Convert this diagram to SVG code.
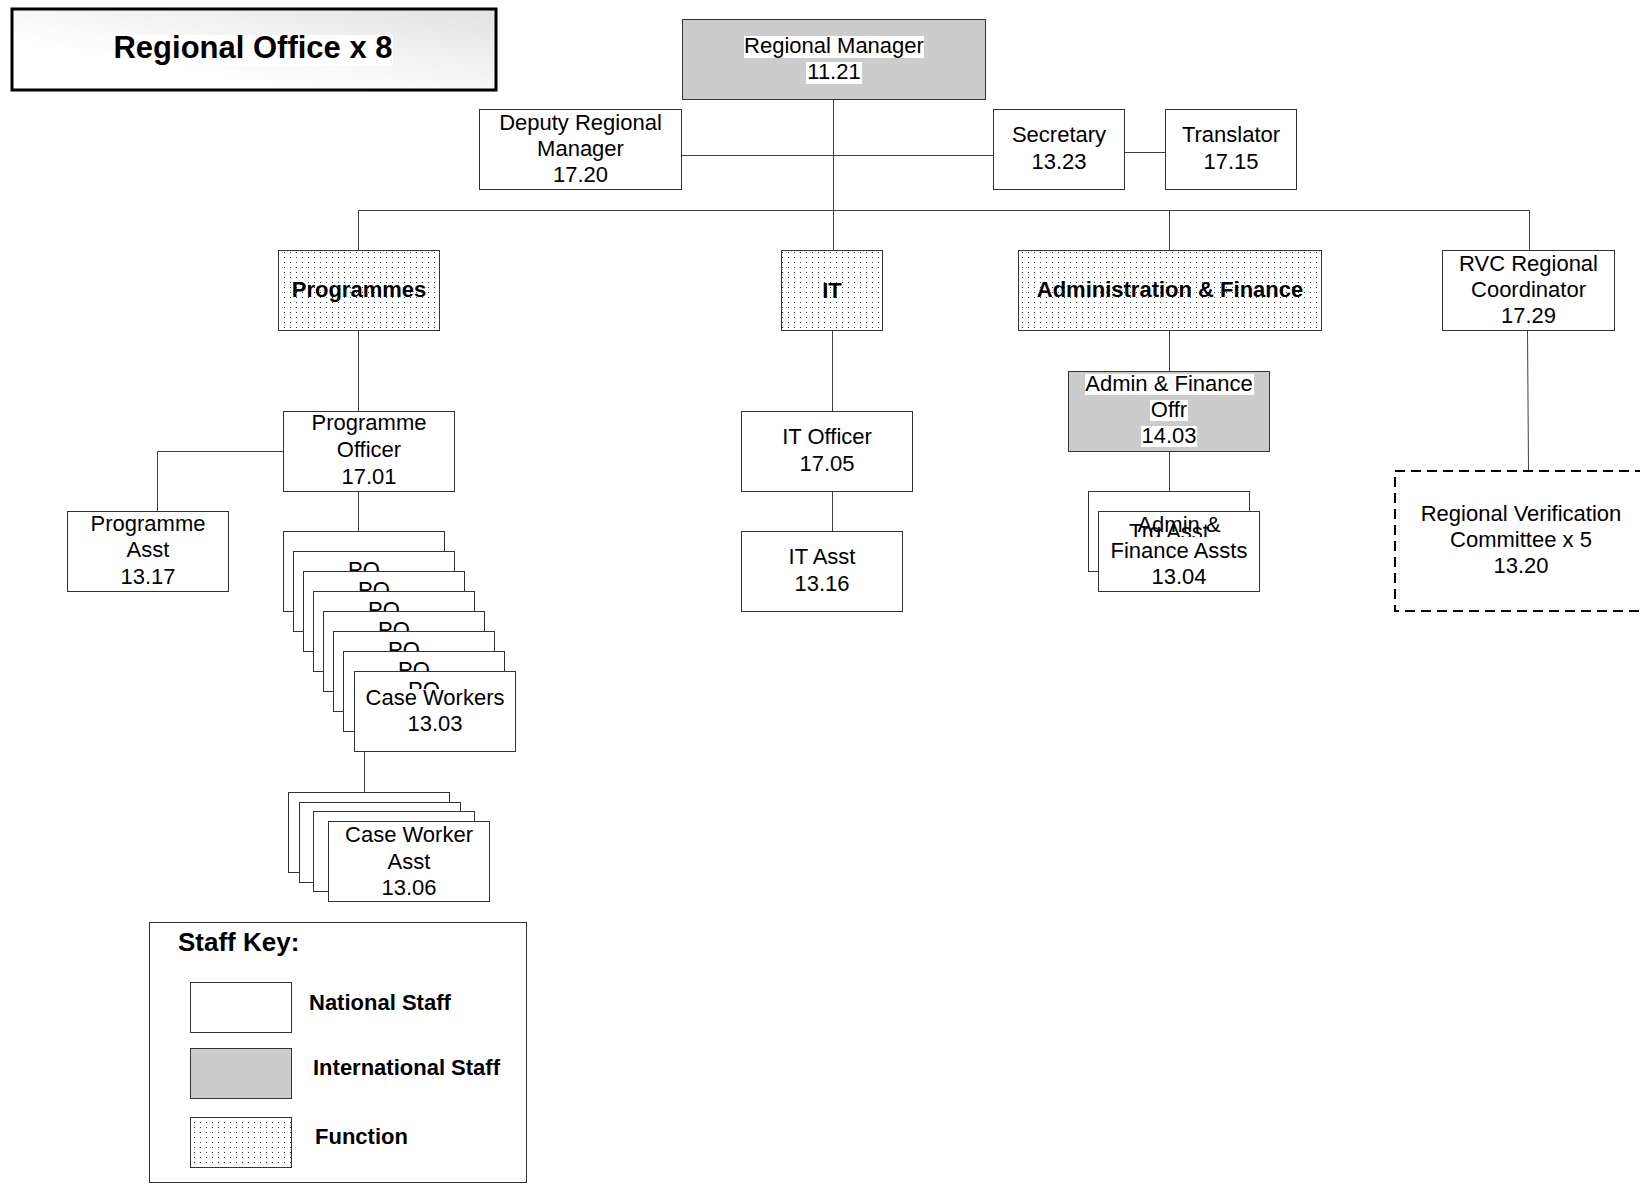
<svg xmlns="http://www.w3.org/2000/svg" width="1640" height="1184" viewBox="0 0 1640 1184">
<defs>
<pattern id="dots" width="6" height="5" patternUnits="userSpaceOnUse"><rect width="6" height="5" fill="#fff"/><rect x="2" y="2" width="1" height="1" fill="#333"/></pattern>
<linearGradient id="tg" x1="0" y1="1" x2="1" y2="0"><stop offset="0.3" stop-color="#ffffff"/><stop offset="1" stop-color="#e2e2e2"/></linearGradient>
<style>
.box{fill:#fff;stroke:#333;stroke-width:1}
.intl{fill:#cccccc;stroke:#333;stroke-width:1}
.func{fill:url(#dots);stroke:#333;stroke-width:1}
.conn{fill:none;stroke:#404040;stroke-width:1}
.t{font-family:"Liberation Sans",Arial,sans-serif;font-size:22px;text-anchor:middle;fill:#000}
.b{font-weight:bold}
.l{text-anchor:start}
.bg{fill:#fff}
</style>
</defs>
<rect width="1640" height="1184" fill="#fff"/>

<g id="connectors">
<path class="conn" d="M833.5 99 V250"/>
<path class="conn" d="M681 155.5 H993"/>
<path class="conn" d="M1124 152.5 H1165"/>
<path class="conn" d="M358.5 250 V210.5 H1529.5 V250"/>
<path class="conn" d="M1169.5 210.5 V250"/>
<path class="conn" d="M358.5 330 V411"/>
<path class="conn" d="M283 451.5 H157.5 V511"/>
<path class="conn" d="M358.5 491 V531"/>
<path class="conn" d="M364.5 751 V792"/>
<path class="conn" d="M832.5 330 V411"/>
<path class="conn" d="M832.5 491 V531"/>
<path class="conn" d="M1169.5 330 V371"/>
<path class="conn" d="M1169.5 451 V491"/>
<path class="conn" d="M1527.5 330 L1528.5 471"/>
</g>

<g id="title">
<rect x="12" y="9" width="484" height="81" fill="url(#tg)" stroke="#000" stroke-width="3"/>
<rect class="bg" x="113" y="35" width="280" height="31"/>
<text class="t b" x="253" y="58" style="font-size:31px">Regional Office x 8</text>
</g>

<g id="regional-manager">
<rect class="intl" x="682.5" y="19.5" width="303" height="80"/>
<rect class="bg" x="744" y="36" width="180" height="22"/>
<rect class="bg" x="806" y="62" width="56" height="22"/>
<text class="t" x="834" y="53">Regional Manager</text>
<text class="t" x="834" y="79">11.21</text>
</g>

<g id="deputy-regional-manager">
<rect class="box" x="479.5" y="109.5" width="202" height="80"/>
<text class="t" x="580.5" y="130">Deputy Regional</text>
<text class="t" x="580.5" y="156">Manager</text>
<text class="t" x="580.5" y="182">17.20</text>
</g>

<g id="secretary">
<rect class="box" x="993.5" y="109.5" width="131" height="80"/>
<text class="t" x="1059" y="142">Secretary</text>
<text class="t" x="1059" y="169">13.23</text>
</g>

<g id="translator">
<rect class="box" x="1165.5" y="109.5" width="131" height="80"/>
<text class="t" x="1231" y="142">Translator</text>
<text class="t" x="1231" y="169">17.15</text>
</g>

<g id="programmes">
<rect class="func" x="278.5" y="250.5" width="161" height="80"/>
<text class="t b" x="359" y="297">Programmes</text>
</g>

<g id="it">
<rect class="func" x="781.5" y="250.5" width="101" height="80"/>
<text class="t b" x="832" y="298">IT</text>
</g>

<g id="admin-finance">
<rect class="func" x="1018.5" y="250.5" width="303" height="80"/>
<text class="t b" x="1170" y="297">Administration &amp; Finance</text>
</g>

<g id="rvc-coordinator">
<rect class="box" x="1442.5" y="250.5" width="172" height="80"/>
<text class="t" x="1528.5" y="271">RVC Regional</text>
<text class="t" x="1528.5" y="297">Coordinator</text>
<text class="t" x="1528.5" y="323">17.29</text>
</g>

<g id="programme-officer">
<rect class="box" x="283.5" y="411.5" width="171" height="80"/>
<text class="t" x="369" y="430">Programme</text>
<text class="t" x="369" y="457">Officer</text>
<text class="t" x="369" y="484">17.01</text>
</g>

<g id="programme-asst">
<rect class="box" x="67.5" y="511.5" width="161" height="80"/>
<text class="t" x="148" y="531">Programme</text>
<text class="t" x="148" y="557">Asst</text>
<text class="t" x="148" y="584">13.17</text>
</g>

<g id="case-workers">
<rect class="box" x="283.5" y="531.5" width="161" height="80"/>
<rect class="box" x="293.5" y="551.5" width="161" height="80"/>
<text class="t" x="364" y="577">PO</text>
<rect class="box" x="303.5" y="571.5" width="161" height="80"/>
<text class="t" x="374" y="597">PO</text>
<rect class="box" x="313.5" y="591.5" width="161" height="80"/>
<text class="t" x="384" y="617">PO</text>
<rect class="box" x="323.5" y="611.5" width="161" height="80"/>
<text class="t" x="394" y="637">PO</text>
<rect class="box" x="333.5" y="631.5" width="161" height="80"/>
<text class="t" x="404" y="657">PO</text>
<rect class="box" x="343.5" y="651.5" width="161" height="80"/>
<text class="t" x="414" y="677">PO</text>
<rect class="box" x="354.5" y="671.5" width="161" height="80"/>
<text class="t" x="424" y="697">PO</text>
<rect class="bg" x="366" y="689" width="138" height="21"/>
<text class="t" x="435" y="705">Case Workers</text>
<text class="t" x="435" y="731">13.03</text>
</g>

<g id="case-worker-asst">
<rect class="box" x="288.5" y="792.5" width="161" height="80"/>
<rect class="box" x="299.5" y="802.5" width="161" height="80"/>
<rect class="box" x="313.5" y="811.5" width="161" height="80"/>
<rect class="box" x="328.5" y="821.5" width="161" height="80"/>
<text class="t" x="409" y="842">Case Worker</text>
<text class="t" x="409" y="869">Asst</text>
<text class="t" x="409" y="895">13.06</text>
</g>

<g id="it-officer">
<rect class="box" x="741.5" y="411.5" width="171" height="80"/>
<text class="t" x="827" y="444">IT Officer</text>
<text class="t" x="827" y="471">17.05</text>
</g>

<g id="it-asst">
<rect class="box" x="741.5" y="531.5" width="161" height="80"/>
<text class="t" x="822" y="564">IT Asst</text>
<text class="t" x="822" y="591">13.16</text>
</g>

<g id="admin-finance-offr">
<rect class="intl" x="1068.5" y="371.5" width="201" height="80"/>
<rect class="bg" x="1085" y="374" width="169" height="21"/>
<rect class="bg" x="1150" y="400" width="38" height="21"/>
<rect class="bg" x="1141" y="426" width="56" height="21"/>
<text class="t" x="1169" y="391">Admin &amp; Finance</text>
<text class="t" x="1169" y="417">Offr</text>
<text class="t" x="1169" y="443">14.03</text>
</g>

<g id="admin-finance-assts">
<rect class="box" x="1088.5" y="491.5" width="161" height="80"/>
<rect class="box" x="1098.5" y="511.5" width="161" height="80"/>
<text class="t" x="1179" y="532">Admin &amp;</text>
<text class="t" x="1169" y="539">Trg Asst</text>
<rect class="bg" x="1108" y="537" width="142" height="25"/>
<text class="t" x="1179" y="558">Finance Assts</text>
<text class="t" x="1179" y="584">13.04</text>
</g>

<g id="regional-verification-committee">
<rect x="1395" y="471" width="252" height="140" fill="#fff" stroke="#000" stroke-width="2" stroke-dasharray="10 6"/>
<text class="t" x="1521" y="521">Regional Verification</text>
<text class="t" x="1521" y="547">Committee x 5</text>
<text class="t" x="1521" y="573">13.20</text>
</g>

<g id="staff-key">
<rect class="box" x="149.5" y="922.5" width="377" height="260"/>
<text class="t b l" x="178" y="951" style="font-size:26px">Staff Key:</text>
<rect class="box" x="190.5" y="982.5" width="101" height="50"/>
<rect class="intl" x="190.5" y="1048.5" width="101" height="50"/>
<rect class="func" x="190.5" y="1117.5" width="101" height="50"/>
<text class="t b l" x="309" y="1010">National Staff</text>
<text class="t b l" x="313" y="1075">International Staff</text>
<text class="t b l" x="315" y="1144">Function</text>
</g>
</svg>
